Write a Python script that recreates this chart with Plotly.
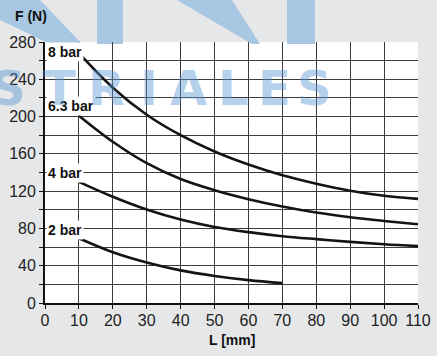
import plotly.graph_objects as go

# ---- data ----
L_mm = [10, 20, 30, 40, 50, 60, 70, 80, 90, 100, 110]
F_8bar = [268, 231, 202, 180, 162.5, 148.5, 137, 128, 120.5, 115, 111.7]
F_63bar = [201, 173, 150, 133, 121, 111.4, 103.5, 97, 92, 88, 84.5]
F_4bar = [130, 114, 100.3, 89.5, 81.5, 76, 71.7, 68.5, 65.6, 63, 61]
L_2bar = [10, 20, 30, 40, 50, 60, 70]
F_2bar = [69.5, 54.5, 43.5, 35, 29, 24.5, 21.3]

series_names = ["8 bar", "6.3 bar", "4 bar", "2 bar"]
label_y = [269, 211, 139, 78]

x_tick_vals = [0, 10, 20, 30, 40, 50, 60, 70, 80, 90, 100, 110]
x_tick_text = ["0", "10", "20", "30", "40", "50", "60", "70", "80", "90", "100", "110"]
y_tick_vals = [0, 20, 40, 60, 80, 100, 120, 140, 160, 180, 200, 220, 240, 260, 280]
y_tick_text = ["0", "", "40", "", "80", "", "120", "", "160", "", "200", "", "240", "", "280"]

x_title = "L [mm]"
y_title = "F (N)"
watermark = "STRIALES"

# ---- style ----
W, H = 437, 356
ML, MR, MT, MB = 45, 19, 42, 53
FONT = "Liberation Sans, Arial, sans-serif"
BG = "#e6e7e9"
GRID = "#3c3c3c"
CURVE = "#141414"

def px2paper_x(px):
    return (px - ML) / (W - ML - MR)

def px2paper_y(py):
    return (H - MB - py) / (H - MT - MB)

fig = go.Figure()
for xs, ys, name in [(L_mm, F_8bar, series_names[0]), (L_mm, F_63bar, series_names[1]),
                     (L_mm, F_4bar, series_names[2]), (L_2bar, F_2bar, series_names[3])]:
    fig.add_trace(go.Scatter(x=xs, y=ys, mode="lines", name=name,
                             line=dict(color=CURVE, width=2.6, shape="spline", smoothing=1.0),
                             showlegend=False, hoverinfo="skip"))

# curve labels
for name, yv in zip(series_names, label_y):
    fig.add_annotation(x=0.3, y=yv, xref="x", yref="y", text="<b>%s</b>" % name,
                       showarrow=False, xanchor="left", yanchor="middle",
                       bgcolor="white", borderpad=1,
                       font=dict(family=FONT, size=14, color="#111"))

# watermark letters (decoration)
letter_px = [8, 59, 106, 149, 188, 233, 274, 314]
for ch, lx in zip(watermark, letter_px):
    fig.add_annotation(x=px2paper_x(lx), y=px2paper_y(88), xref="paper", yref="paper",
                       text="<b>%s</b>" % ch, showarrow=False,
                       xanchor="center", yanchor="middle",
                       font=dict(family="DejaVu Sans", size=48, color="rgba(90,150,210,0.45)"))

# watermark top shapes
WM = "#a8c7e3"
polys = [
    [(0, 0), (40, 0), (82, 44), (50, 44), (0, 20)],
    [(97, 0), (123, 0), (123, 44), (97, 44)],
    [(177, 0), (232, 0), (260, 44), (252, 44)],
    [(287, 0), (315, 0), (315, 44), (287, 44)],
]
for poly in polys:
    path = "M " + " L ".join("%.4f,%.4f" % (px2paper_x(a), px2paper_y(b)) for a, b in poly) + " Z"
    fig.add_shape(type="path", path=path, xref="paper", yref="paper",
                  fillcolor=WM, line=dict(width=0), layer="below")

# axis titles
fig.add_annotation(x=px2paper_x(31), y=px2paper_y(16), xref="paper", yref="paper",
                   text="<b>%s</b>" % y_title, showarrow=False,
                   xanchor="center", yanchor="middle",
                   font=dict(family=FONT, size=14, color="#111"))
fig.add_annotation(x=0.5, y=px2paper_y(340), xref="paper", yref="paper",
                   text="<b>%s</b>" % x_title, showarrow=False,
                   xanchor="center", yanchor="middle",
                   font=dict(family=FONT, size=14, color="#111"))

axis_common = dict(showgrid=True, gridcolor=GRID, gridwidth=1.3,
                   showline=True, linecolor="#111", linewidth=1.8, mirror=False,
                   ticks="outside", ticklen=4, tickcolor="#111", tickwidth=1.3,
                   tickfont=dict(family=FONT, size=16, color="#222"), zeroline=False,
                   fixedrange=True, automargin=False)
fig.update_xaxes(range=[0, 110], tickvals=x_tick_vals, ticktext=x_tick_text,
                 ticklabelstandoff=-2, **axis_common)
fig.update_yaxes(range=[0, 280], tickvals=y_tick_vals, ticktext=y_tick_text, **axis_common)

fig.update_layout(width=W, height=H, margin=dict(l=ML, r=MR, t=MT, b=MB),
                  paper_bgcolor=BG, plot_bgcolor="white", showlegend=False)

fig.write_html("out.html", config={"displayModeBar": False},
               post_script="document.body.style.margin='0';document.body.style.overflow='hidden';document.body.style.background='%s';" % BG)
